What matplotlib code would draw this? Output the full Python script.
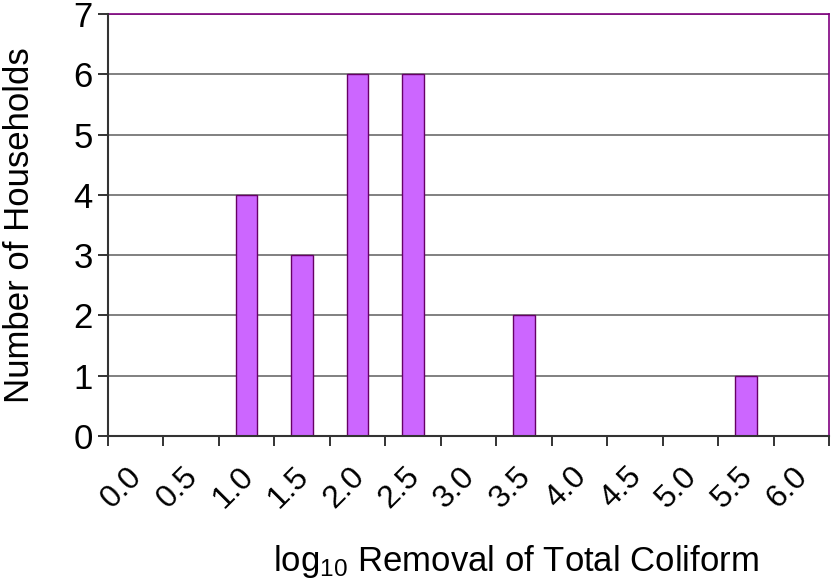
import matplotlib
matplotlib.use("Agg")
import matplotlib.pyplot as plt
import matplotlib.transforms as mtransforms
import numpy as np

# ── data ─────────────────────────────────────────────────────────────────────
categories = ["0.0", "0.5", "1.0", "1.5", "2.0", "2.5", "3.0",
              "3.5", "4.0", "4.5", "5.0", "5.5", "6.0"]
households = [0, 0, 4, 3, 6, 6, 0, 2, 0, 0, 0, 1, 0]
y_ticks    = [0, 1, 2, 3, 4, 5, 6, 7]

# ── style ────────────────────────────────────────────────────────────────────
plt.rcParams["font.family"] = ["Liberation Sans", "DejaVu Sans"]
plt.rcParams["mathtext.fontset"] = "custom"
plt.rcParams["mathtext.rm"] = "Liberation Sans"
plt.rcParams["mathtext.it"] = "Liberation Sans"
FS = 25

BAR_FACE = "#CC66FF"
BAR_EDGE = "#660066"
AXIS_COL = "#333333"
GRID_COL = "#808080"
FRAME_COL = "#800080"

fig = plt.figure(figsize=(8.32, 5.79), dpi=100)
ax = fig.add_axes([108 / 832, 1 - 436 / 579, (829 - 108) / 832, (436 - 14) / 579])

x = np.arange(len(categories))
ax.bar(x, households, width=0.39, color=BAR_FACE, edgecolor=BAR_EDGE,
       linewidth=1.0, zorder=3)

ax.set_xlim(-0.5, len(categories) - 0.5)
ax.set_ylim(0, 7)

# y axis
ax.set_yticks(y_ticks)
ax.tick_params(axis="y", labelsize=FS, length=7, width=1.4, color=AXIS_COL,
               pad=4)
ax.yaxis.grid(True, color=GRID_COL, linewidth=1.4, zorder=1)

# x axis: ticks at category boundaries, labels at centres
ax.set_xticks(np.arange(len(categories) + 1) - 0.5)
ax.set_xticklabels([])
ax.set_xticks(x, minor=True)
ax.set_xticklabels(categories, minor=True, rotation=45, ha="center",
                   va="center", rotation_mode="anchor")
ax.tick_params(axis="x", which="major", length=7, width=1.4, color=AXIS_COL)
ax.tick_params(axis="x", which="minor", length=0, labelsize=23, pad=37)

# nudge the slanted labels a little to the left, as in the original
shift = mtransforms.ScaledTranslation(-13.5 / 100, 0, fig.dpi_scale_trans)
for lbl in ax.get_xticklabels(minor=True):
    lbl.set_transform(lbl.get_transform() + shift)

for side in ("left", "bottom"):
    ax.spines[side].set_color(AXIS_COL)
    ax.spines[side].set_linewidth(1.5)
    ax.spines[side].set_zorder(4)
for side in ("top", "right"):
    ax.spines[side].set_color(FRAME_COL)
    ax.spines[side].set_linewidth(1.2)

ax.set_axisbelow(True)

# axis titles
fig.text(20 / 832, 1 - 225 / 579, "Number of Households", rotation=90,
         ha="center", va="center", fontsize=FS)
fig.text(516 / 832, 1 - 561 / 579, r"log$_{10}$ Removal of Total Coliform",
         ha="center", va="center", fontsize=FS)

fig.savefig("out.png", dpi=100)
